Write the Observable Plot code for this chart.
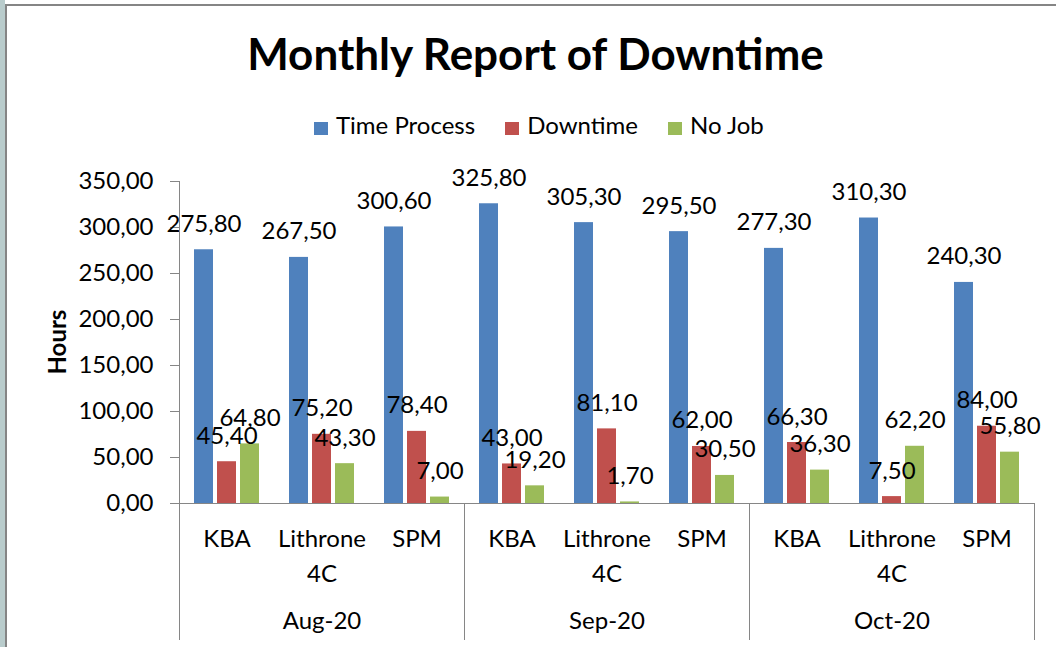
<!DOCTYPE html>
<html>
<head>
<meta charset="utf-8">
<script src="https://cdn.jsdelivr.net/npm/d3@7"></script>
<script src="https://cdn.jsdelivr.net/npm/@observablehq/plot@0.6"></script>
<style>
  html, body { margin: 0; padding: 0; background: #fff; width: 1056px; height: 647px; overflow: hidden; font-family: Lato, sans-serif; }
  #strip { position: absolute; left: 0; top: 0; width: 5px; height: 647px; background: #b9cccc; }
  #border { position: absolute; left: 5px; top: 4px; right: 0; bottom: -2px; border-top: 2px solid #858585; border-left: 2px solid #858585; pointer-events: none; }
  #title { margin: 0; padding-top: 27px; padding-left: 15px; height: 53px; line-height: 53px; font-size: 44px; font-weight: bold; text-align: center; color: #000; }
  #legend { margin-top: 32px; height: 26px; line-height: 26px; font-size: 24px; display: flex; align-items: center; padding-left: 314px; color: #000; }
  .item { display: flex; align-items: center; margin-right: 30px; }
  .sw { width: 14px; height: 13px; margin-right: 8px; position: relative; top: 3px; }
  #chart svg { display: block; }
</style>
</head>
<body>
<div id="strip"></div>
<div id="border"></div>
<div id="title">Monthly Report of Downtime</div>
<div id="legend"></div>
<div id="chart"></div>
<script>
const months = ["Aug-20", "Sep-20", "Oct-20"];
const machines = ["KBA", "Lithrone 4C", "SPM"];
const machineLabels = ["KBA", "Lithrone\n4C", "SPM"];
const series = ["Time Process", "Downtime", "No Job"];
const colors = ["#4F81BD", "#C0504D", "#9BBB59"];
// values in order Aug KBA, Aug Lithrone, Aug SPM, Sep ..., Oct ...
const timeProcess = [275.8, 267.5, 300.6, 325.8, 305.3, 295.5, 277.3, 310.3, 240.3];
const downtime    = [45.4, 75.2, 78.4, 43.0, 81.1, 62.0, 66.3, 7.5, 84.0];
const noJob       = [64.8, 43.3, 7.0, 19.2, 1.7, 30.5, 36.3, 62.2, 55.8];
const yTicks = [0, 50, 100, 150, 200, 250, 300, 350];

const seriesValues = [timeProcess, downtime, noJob];
const keys = [];
const cats = [];
months.forEach((m, i) => machines.forEach((mc, j) => {
  const key = m + "|" + mc;
  keys.push(key);
  cats.push({key, month: m, machine: mc, label: machineLabels[j]});
}));
const rows = [];
cats.forEach((c, k) => series.forEach((s, si) => rows.push({key: c.key, series: s, value: seriesValues[si][k]})));

const fmt = v => d3.format(".2f")(v).replace(".", ",");

// legend
const legend = document.getElementById("legend");
series.forEach((s, i) => {
  const it = document.createElement("div");
  it.className = "item";
  it.innerHTML = `<span class="sw" style="background:${colors[i]}"></span><span>${s}</span>`;
  legend.appendChild(it);
});

const W = 1056, mL = 179, mR = 22;
const half = (W - mL - mR) / keys.length / 2;
const grey = "#868686";

const chart = Plot.plot({
  width: W,
  height: 509,
  marginLeft: mL,
  marginRight: mR,
  marginTop: 43,
  marginBottom: 144,
  style: {fontFamily: "Lato, sans-serif", fontSize: "24px", color: "#000", background: "transparent", overflow: "visible"},
  fx: {domain: keys, padding: 0, axis: null, label: null},
  x: {domain: series, paddingInner: 0.17, paddingOuter: 0.6, axis: null, label: null},
  y: {domain: [0, 350], axis: null},
  color: {domain: series, range: colors},
  marks: [
    Plot.axisY({ticks: yTicks, tickFormat: fmt, tickSize: 9, tickPadding: 17, stroke: grey, fill: "#000", label: null}),
    Plot.ruleY([0], {stroke: grey}),
    Plot.barY(rows, {fx: "key", x: "series", y: "value", fill: "series"}),
    Plot.text(rows, {fx: "key", x: "series", y: "value", text: d => fmt(d.value), lineAnchor: "bottom", dy: -18, fill: "#000"}),
    // y axis line + group separators
    Plot.ruleX([months[0]], {fx: m => m + "|" + machines[0], x: null, dx: -half, insetBottom: -137, stroke: grey}),
    Plot.ruleX(months.slice(1), {fx: m => m + "|" + machines[0], x: null, dx: -half, insetTop: 322, insetBottom: -137, stroke: grey}),
    Plot.ruleX([months[2]], {fx: m => m + "|" + machines[2], x: null, dx: half, insetTop: 322, insetBottom: -137, stroke: grey}),
    // category labels
    Plot.text(cats, {fx: "key", text: "label", frameAnchor: "bottom", lineAnchor: "top", lineHeight: 1.45, dy: 19, fill: "#000"}),
    Plot.text(months, {fx: m => m + "|" + machines[1], text: m => m, frameAnchor: "bottom", lineAnchor: "top", dy: 108, fill: "#000"}),
    // y axis title
    Plot.text(["Hours"], {fx: () => keys[0], text: d => d, frameAnchor: "left", rotate: -90, dx: -121, dy: 32, fontWeight: "bold", fill: "#000"})
  ]
});
document.getElementById("chart").appendChild(chart);
</script>
</body>
</html>
